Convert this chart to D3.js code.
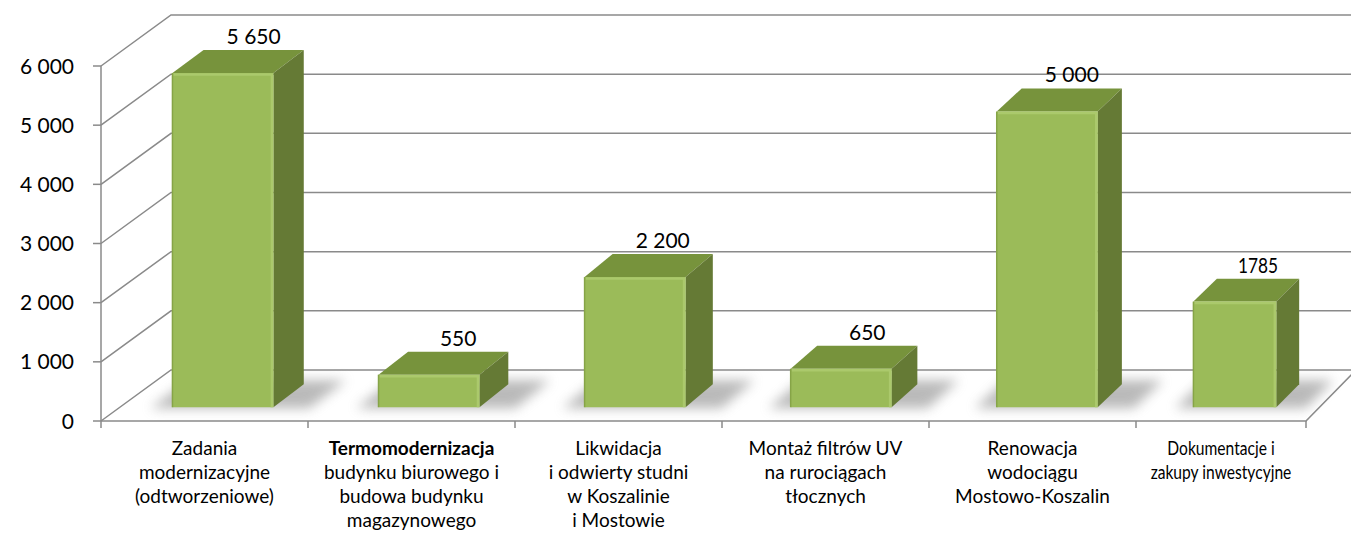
<!DOCTYPE html>
<html>
<head>
<meta charset="utf-8">
<script src="https://cdn.jsdelivr.net/npm/d3@7"></script>
<style>
  body { margin: 0; background: #fff; }
  svg { display: block; }
</style>
</head>
<body>
<div id="chart"></div>
<script>
// data
const categories = [
  "Zadania\nmodernizacyjne\n(odtworzeniowe)",
  "Termomodernizacja\nbudynku biurowego i\nbudowa budynku\nmagazynowego",
  "Likwidacja\ni odwierty studni\nw Koszalinie\ni Mostowie",
  "Montaż filtrów UV\nna rurociągach\ntłocznych",
  "Renowacja\nwodociągu\nMostowo-Koszalin",
  "Dokumentacje i\nzakupy inwestycyjne"
];
const values = [5650, 550, 2200, 650, 5000, 1785];
const valueLabels = ["5 650", "550", "2 200", "650", "5 000", "1785"];
const yTicks = [0, 1000, 2000, 3000, 4000, 5000, 6000];

const width = 1351, height = 537;
const font = "Lato, 'Open Sans', sans-serif";
const gridColor = "#8a8a8a";

const svg = d3.select("#chart").append("svg")
  .attr("width", width)
  .attr("height", height)
  .attr("viewBox", "0 0 " + width + " " + height);

// value scale (front plane), category scale (last slot is squeezed in the source image)
const y = d3.scaleLinear().domain([0, 6000]).range([421, 66]);
const x = d3.scaleLinear().domain([0, categories.length - 1, categories.length]).range([101, 1136, 1306]);
// depth: vertical rise is constant, horizontal run shrinks to the right (perspective)
const depthY = 51;
const depthX = d3.scaleLinear().domain([x(0), x(categories.length)]).range([70, 50]);

function P(c, v, f) {
  const xf = x(c);
  return [xf + f * depthX(xf), y(v) - f * depthY];
}
const line = d3.line();

const fmt = d3.formatLocale({ decimal: ",", thousands: "\u00a0", grouping: [3], currency: ["", " zł"] }).format(",d");

const defs = svg.append("defs");
defs.append("filter").attr("id", "shadow")
  .attr("x", "-50%").attr("y", "-50%").attr("width", "200%").attr("height", "200%")
  .append("feGaussianBlur").attr("stdDeviation", 6);

// walls: gridlines on left wall + back wall
const grid = svg.append("g");
grid.selectAll("path.grid")
  .data(yTicks)
  .enter().append("path")
  .attr("class", "grid")
  .attr("d", t => line([P(0, t, 0), P(0, t, 1), P(categories.length, t, 1)]))
  .attr("fill", "none")
  .attr("stroke", gridColor)
  .attr("stroke-width", 1.5);

// floor edges
grid.append("path")
  .attr("d", line([P(0, 0, 0), P(categories.length, 0, 0), P(categories.length, 0, 1)]))
  .attr("fill", "none")
  .attr("stroke", gridColor)
  .attr("stroke-width", 1.5);

// y axis
grid.append("path")
  .attr("d", line([P(0, 0, 0), P(0, 6000, 0)]))
  .attr("stroke", gridColor)
  .attr("stroke-width", 1.5);
grid.selectAll("path.ytick")
  .data(yTicks)
  .enter().append("path")
  .attr("class", "ytick")
  .attr("d", t => line([[x(0) - 8, y(t)], [x(0), y(t)]]))
  .attr("stroke", gridColor)
  .attr("stroke-width", 1.5);
svg.selectAll("text.ylab")
  .data(yTicks)
  .enter().append("text")
  .attr("class", "ylab")
  .attr("x", x(0) - 27)
  .attr("y", t => y(t))
  .attr("dy", "0.36em")
  .attr("text-anchor", "end")
  .style("font-family", font)
  .style("font-size", "21px")
  .style("fill", "#000")
  .text(t => fmt(t));

// category ticks
grid.selectAll("path.xtick")
  .data(d3.range(categories.length + 1))
  .enter().append("path")
  .attr("class", "xtick")
  .attr("d", i => line([[x(i), y(0)], [x(i), y(0) + 7]]))
  .attr("stroke", gridColor)
  .attr("stroke-width", 1.5);

// bars
const f0 = 0.27, f1 = 0.72, pad = 0.255;
const bars = values.map((v, i) => ({ i, v, c0: i + pad, c1: i + 1 - pad }));

svg.append("g").selectAll("path")
  .data(bars)
  .enter().append("path")
  .attr("d", d => line([P(d.c0 - 0.1, 0, f0 - 0.02), P(d.c1 + 0.18, 0, f0 - 0.02), P(d.c1 + 0.18, 0, f1 + 0.08), P(d.c0 - 0.1, 0, f1 + 0.08)]) + "Z")
  .attr("fill", "#8c8c8c")
  .attr("opacity", 0.6)
  .attr("filter", "url(#shadow)");

const barG = svg.append("g").selectAll("g")
  .data(bars)
  .enter().append("g");

barG.append("path") // top
  .attr("d", d => line([P(d.c0, d.v, f0), P(d.c1, d.v, f0), P(d.c1, d.v, f1), P(d.c0, d.v, f1)]) + "Z")
  .attr("fill", "#77933c");
barG.append("path") // side
  .attr("d", d => line([P(d.c1, 0, f0), P(d.c1, 0, f1), P(d.c1, d.v, f1), P(d.c1, d.v, f0)]) + "Z")
  .attr("fill", "#657a35");
barG.append("path") // front
  .attr("d", d => line([P(d.c0, 0, f0), P(d.c1, 0, f0), P(d.c1, d.v, f0), P(d.c0, d.v, f0)]) + "Z")
  .attr("fill", "#9bbb59");
barG.append("path") // bevel highlight, top and right edges of front face
  .attr("d", d => {
    const a = P(d.c0, d.v, f0), b = P(d.c1, d.v, f0), c = P(d.c1, 0, f0);
    return line([[a[0] + 1, a[1] + 1.5], [b[0] - 1.5, b[1] + 1.5], [c[0] - 1.5, c[1]]]);
  })
  .attr("fill", "none")
  .attr("stroke", "#abc96c")
  .attr("stroke-width", 2.5);
barG.append("path") // darker left edge
  .attr("d", d => line([P(d.c0, 0, f0), P(d.c0, d.v, f0)]))
  .attr("stroke", "#86a447")
  .attr("stroke-width", 1.5);

// squeeze factor of each category slot relative to the first
const squeeze = i => (x(i + 1) - x(i)) / (x(1) - x(0));

// value labels
barG.append("text")
  .attr("transform", d => {
    const p = P(d.i + 0.5, d.v, f1);
    return "translate(" + p[0] + "," + (p[1] - 6) + ") scale(" + squeeze(d.i) + ",1)";
  })
  .attr("text-anchor", "middle")
  .style("font-family", font)
  .style("font-size", "21px")
  .style("fill", "#000")
  .text(d => valueLabels[d.i]);

// category labels
const catG = svg.append("g").selectAll("text")
  .data(categories)
  .enter().append("text")
  .attr("transform", (c, i) => "translate(" + x(i + 0.5) + "," + (y(0) + 34) + ") scale(" + squeeze(i) + ",1)")
  .attr("text-anchor", "middle")
  .style("font-family", font)
  .style("font-size", "19px")
  .style("fill", "#000");
catG.each(function (c, i) {
  const t = d3.select(this);
  c.split("\n").forEach((s, k) => {
    t.append("tspan")
      .attr("x", 0)
      .attr("dy", k === 0 ? 0 : 24)
      .style("font-weight", i === 1 && k === 0 ? "bold" : null)
      .text(s);
  });
});
</script>
</body>
</html>
